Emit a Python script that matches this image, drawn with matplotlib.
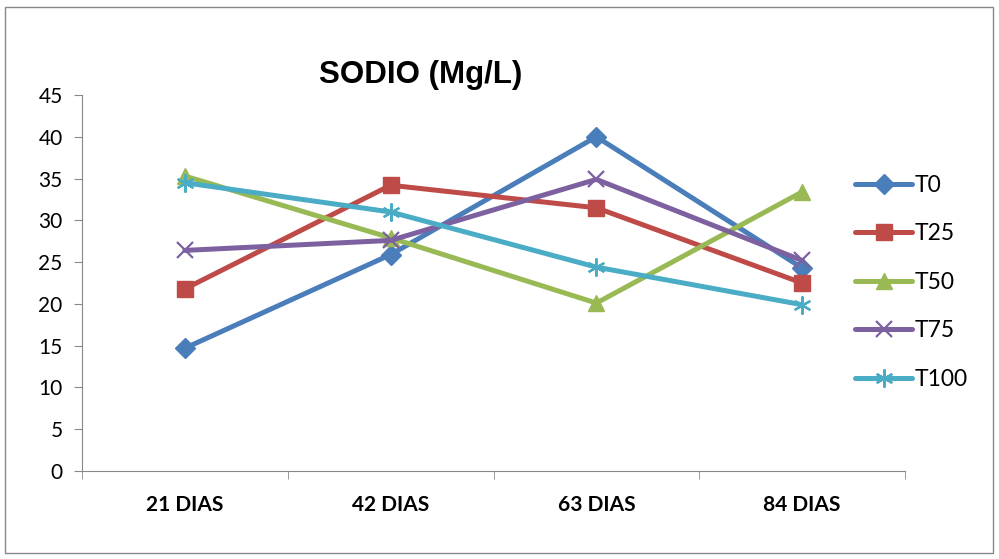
import matplotlib.pyplot as plt
from matplotlib.patches import Rectangle

days = ['21 DIAS', '42 DIAS', '63 DIAS', '84 DIAS']
t0 = [14.7, 25.9, 40.0, 24.3]
t25 = [21.8, 34.2, 31.5, 22.5]
t50 = [35.3, 27.9, 20.1, 33.4]
t75 = [26.4, 27.6, 34.9, 25.2]
t100 = [34.5, 31.0, 24.4, 19.9]

series = [
    ('T0', t0, '#4A7EBB', 'D', 10),
    ('T25', t25, '#BE4B48', 's', 11),
    ('T50', t50, '#98B954', '^', 12),
    ('T75', t75, '#7D60A0', 'x', 12),
    ('T100', t100, '#4BACC6', (6, 2, 0), 13),
]

plt.rcParams['font.family'] = ['Lato', 'DejaVu Sans']
fig = plt.figure(figsize=(9.99, 5.59), dpi=100)
fig.patches.append(Rectangle((5 / 999, 6 / 559), 988 / 999, 546 / 559,
                             transform=fig.transFigure, fill=False,
                             edgecolor='#888888', linewidth=1))
ax = fig.add_axes([82 / 999, 1 - 471 / 559, (905 - 82) / 999, (471 - 95) / 559])

x = list(range(len(days)))
for name, vals, color, marker, ms in series:
    ax.plot(x, vals, color=color, linewidth=3.6, marker=marker, markersize=ms,
            markeredgecolor=color, markerfacecolor=color,
            markeredgewidth=1.6 if marker in ('x',) or isinstance(marker, tuple) else 1,
            label=name, solid_capstyle='round')

ax.set_xlim(-0.5, 3.5)
ax.set_ylim(0, 45)
ax.set_yticks(range(0, 46, 5))
ax.set_xticks(x)
ax.set_xticklabels(days, fontweight='bold', fontsize=15)
ax.set_xticks([-0.5, 0.5, 1.5, 2.5, 3.5], minor=True)
ax.tick_params(axis='x', which='major', length=0, pad=17)
ax.tick_params(axis='x', which='minor', length=6, color='#888888')
ax.tick_params(axis='y', length=6, color='#888888', labelsize=15, pad=8)
for s in ['top', 'right']:
    ax.spines[s].set_visible(False)
for s in ['left', 'bottom']:
    ax.spines[s].set_color('#888888')

fig.text(421 / 999, 1 - 75 / 559, 'SODIO (Mg/L)', ha='center', va='center',
         fontsize=22.5, fontweight='bold', family=['Liberation Sans', 'DejaVu Sans'])

fig.legend(loc='upper left', bbox_to_anchor=(855 / 999, 1 - 175 / 559), frameon=False,
           fontsize=16.5, handlelength=2.5, labelspacing=1.2, handletextpad=0.1,
           borderaxespad=0, borderpad=0)

fig.savefig('out.png', dpi=100)
